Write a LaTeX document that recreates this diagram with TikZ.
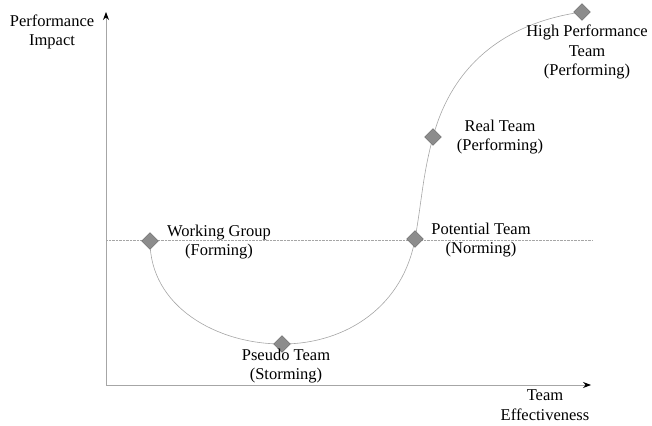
\documentclass[tikz,border=0pt]{standalone}
\usepackage{fontspec}
\setmainfont{Liberation Serif}
\usetikzlibrary{shapes.geometric, arrows.meta}

\begin{document}
\begin{tikzpicture}[x=1pt, y=-1pt,
        stage/.style={diamond, draw=black!60, fill=black!45, minimum size=17pt, inner sep=0pt},
        lbl/.style={align=center, inner sep=0pt, font=\fontsize{16.5}{19.5}\selectfont},
        curve/.style={black!35, line width=0.6pt}]
        \useasboundingbox (0,0) rectangle (652,425);
        % axes
        \coordinate (origin) at (106,385);
        \coordinate (ytop) at (106,12);
        \coordinate (xend) at (591,385);
        \draw [black!35, line width=0.8pt, -{Stealth[black, length=8pt, width=6pt]}] (origin) -- (ytop);
        \draw [black!35, line width=0.8pt, -{Stealth[black, length=8pt, width=6pt]}] (origin) -- (xend);
        \node[lbl] (yname) at (52,32) {Performance\\Impact};
        \node[lbl] (xname) at (545,405) {Team\\Effectiveness};
        % baseline of performance
        \coordinate (bl) at (106,240);
        \coordinate (br) at (593,240);
        \draw [black!35, densely dotted] (bl) -- (br);
        % the team curve
        \coordinate (wg) at (150,241);
        \coordinate (pt) at (282,344);
        \coordinate (nt) at (415,239);
        \coordinate (rt) at (433,137);
        \coordinate (hp) at (582,12);
        \draw [curve] (wg) to[out=-90, in=180] (pt) to[out=0, in=-100] (nt)
                to[out=80, in=-105] (rt) to[out=75, in=188] (hp);
        \node[stage] (wgd) at (wg) {};
        \node[stage] (ptd) at (pt) {};
        \node[stage] (ntd) at (nt) {};
        \node[stage] (rtd) at (rt) {};
        \node[stage] (hpd) at (hp) {};
        % stage names
        \node[lbl] (wgl) at (219,242) {Working Group\\(Forming)};
        \node[lbl] (ptl) at (286,366) {Pseudo Team\\(Storming)};
        \node[lbl] (ntl) at (481,240) {Potential Team\\(Norming)};
        \node[lbl] (rtl) at (500,137) {Real Team\\(Performing)};
        \node[lbl] (hpl) at (587,52) {High Performance\\Team\\(Performing)};
\end{tikzpicture}
\end{document}
